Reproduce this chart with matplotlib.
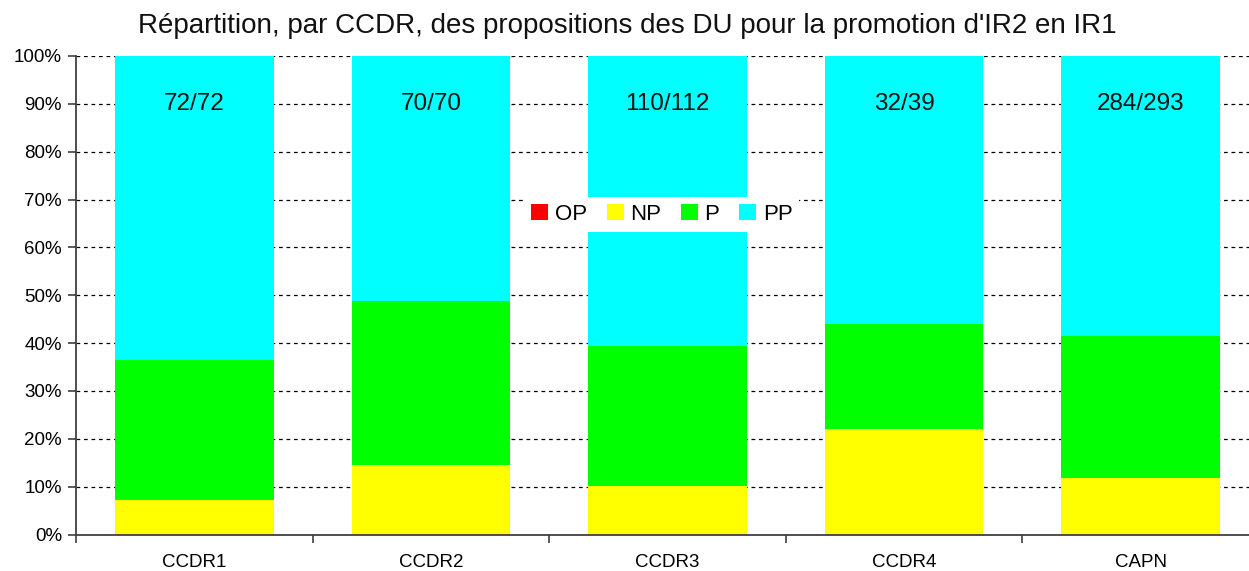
import matplotlib.pyplot as plt
import numpy as np
from matplotlib.ticker import FixedLocator, PercentFormatter

plt.rcParams["font.family"] = ["Liberation Sans", "DejaVu Sans"]

CATEGORIES = ["CCDR1", "CCDR2", "CCDR3", "CCDR4", "CAPN"]
SERIES = ["OP", "NP", "P", "PP"]
COLORS = ["#ff0000", "#ffff00", "#00ff00", "#00ffff"]

# share of each opinion, in percent
OP = [0.0, 0.0, 0.0, 0.0, 0.0]
NP = [7.2, 14.5, 10.1, 22.1, 11.8]
P = [29.2, 34.3, 29.3, 21.9, 29.7]
PP = [63.6, 51.2, 60.6, 56.0, 58.5]
RATIOS = ["72/72", "70/70", "110/112", "32/39", "284/293"]

TITLE = "Répartition, par CCDR, des propositions des DU pour la promotion d'IR2 en IR1"


def main() -> None:
    W, H = 1249, 571
    fig = plt.figure(figsize=(W / 100, H / 100), dpi=100)
    ax = fig.add_axes([76 / W, 36.5 / H, (1259 - 76) / W, (534.5 - 56) / H])

    x = np.arange(len(CATEGORIES))
    bottom = np.zeros(len(CATEGORIES))
    handles = []
    for name, values, color in zip(SERIES, [OP, NP, P, PP], COLORS):
        vals = np.array(values)
        bars = ax.bar(x, vals, width=0.67, bottom=bottom, color=color,
                      edgecolor="none", label=name, zorder=2)
        handles.append(bars)
        bottom += vals

    for xi, text in zip(x, RATIOS):
        ax.text(xi, 90, text, ha="center", va="center", fontsize=17.5,
                color="#111111", zorder=3)

    ax.set_xlim(-0.5, len(CATEGORIES) - 0.5)
    ax.set_ylim(0, 100)
    ax.yaxis.set_major_locator(FixedLocator(np.arange(0, 101, 10)))
    ax.yaxis.set_major_formatter(PercentFormatter(decimals=0))
    ax.set_xticks(x)
    ax.set_xticklabels(CATEGORIES)
    ax.xaxis.set_minor_locator(FixedLocator(np.arange(-0.5, len(CATEGORIES), 1.0)))
    ax.tick_params(axis="x", which="major", length=0, pad=14, labelsize=13.5)
    ax.tick_params(axis="x", which="minor", length=6, width=1.2, color="#404040")
    ax.tick_params(axis="y", length=6, width=1.2, color="#404040", pad=4,
                   labelsize=13.5)

    ax.grid(axis="y", color="black", linestyle=(0, (3, 3)), linewidth=0.9, zorder=1)
    ax.set_axisbelow(True)
    for side in ["top", "right"]:
        ax.spines[side].set_visible(False)
    for side in ["left", "bottom"]:
        ax.spines[side].set_color("#404040")
        ax.spines[side].set_linewidth(1.3)
        ax.spines[side].set_zorder(4)

    fig.text(627 / W, 1 - 26 / H, TITLE, ha="center", va="center", fontsize=20,
             color="#111111")

    leg = fig.legend(handles=handles, labels=SERIES, loc="center", ncol=4,
                     bbox_to_anchor=(662 / W, 1 - 214.5 / H), fontsize=16,
                     frameon=True, fancybox=False, handlelength=0.75,
                     handleheight=0.75, handletextpad=0.3, columnspacing=0.9,
                     borderpad=0.3)
    leg.get_frame().set_facecolor("white")
    leg.get_frame().set_edgecolor("none")
    leg.get_frame().set_alpha(1.0)

    fig.savefig("out.png", dpi=100)


if __name__ == "__main__":
    main()
